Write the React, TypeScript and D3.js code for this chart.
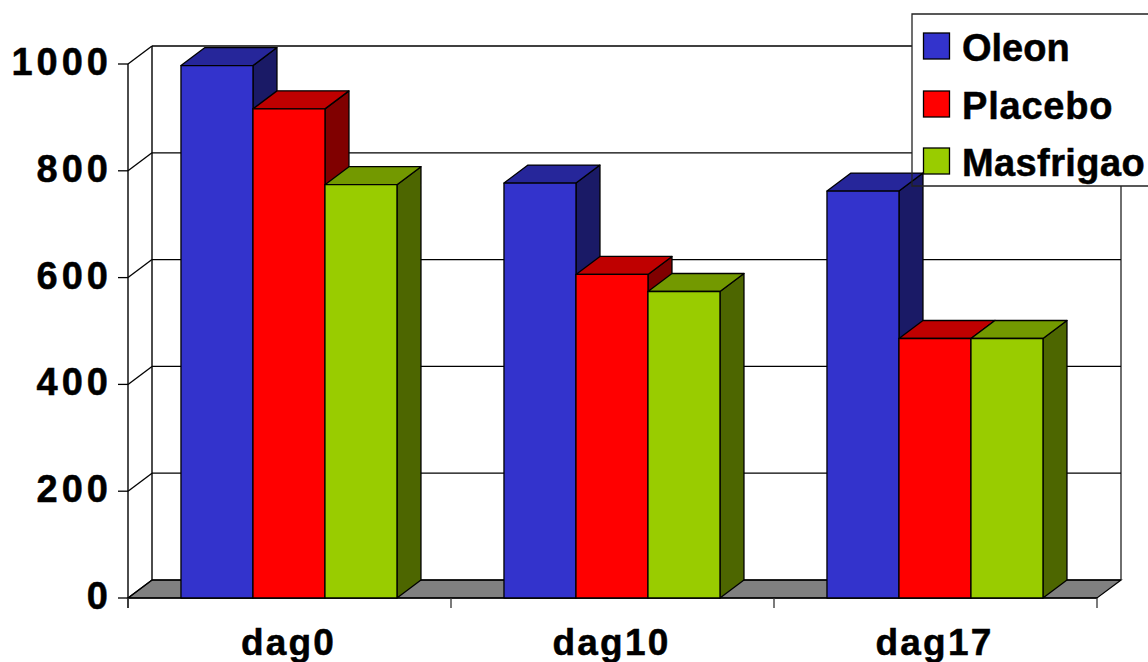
import React from "react";
import * as d3 from "d3";

// Chart values
const categories = ["dag0", "dag10", "dag17"];
const seriesNames = ["Oleon", "Placebo", "Masfrigao"];
const oleon = [997, 777, 762];
const placebo = [916, 606, 486];
const masfrigao = [774, 574, 486];
const yTicks = [0, 200, 400, 600, 800, 1000];
const seriesValues = [oleon, placebo, masfrigao];

// Face colours per series: front, top, side
const frontColors = ["#3333CC", "#FF0000", "#99CC00"];
const topColors = ["#26269A", "#BF0000", "#739900"];
const sideColors = ["#1A1A66", "#800000", "#4D6600"];

// Plot box and the oblique offset of the back wall
const left = 128;
const right = 1097;
const bottom = 598;
const top = 64;
const depthX = 24;
const depthY = -18;

const FONT = "'Liberation Sans', Arial, sans-serif";

const y = d3.scaleLinear().domain([0, 1000]).range([bottom, top]);
const xGroup = d3
  .scaleBand<string>()
  .domain(categories)
  .range([left, right])
  .paddingInner(0.328)
  .paddingOuter(0.164);
const xBar = d3.scaleBand<string>().domain(seriesNames).range([0, 216]);

const poly = (pts: [number, number][]) => d3.line()(pts) + "Z";

const legendX = 912;
const legendY = 14;
const legendBottom = 186;
const legendRows = [33, 91, 148];
const legendTracking = [0, 0.8, 0.4];

export default function App() {
  return (
    <svg
      width={1148}
      height={662}
      style={{ position: "absolute", left: 0, top: 0, background: "#fff" }}
      fontFamily={FONT}
      fontWeight="bold"
    >
      {/* floor */}
      <path
        d={poly([
          [left, bottom],
          [left + depthX, bottom + depthY],
          [right + depthX, bottom + depthY],
          [right, bottom],
        ])}
        fill="#808080"
        stroke="#000"
        strokeWidth={1.2}
      />
      {/* walls and gridlines */}
      <line x1={left + depthX} x2={left + depthX} y1={y(1000) + depthY} y2={bottom + depthY} stroke="#000" strokeWidth={1.4} />
      <line x1={right + depthX} x2={right + depthX} y1={y(1000) + depthY} y2={bottom + depthY} stroke="#333" strokeWidth={1.4} />
      <line x1={left} x2={left} y1={y(1000)} y2={bottom + 10} stroke="#000" strokeWidth={1.4} />
      {yTicks.map((t) => (
        <g key={t} stroke="#000" strokeWidth={1.3}>
          <line x1={left + depthX} x2={right + depthX} y1={y(t) + depthY} y2={y(t) + depthY} />
          <line x1={left} x2={left + depthX} y1={y(t)} y2={y(t) + depthY} />
          <line x1={left - 10} x2={left} y1={y(t)} y2={y(t)} />
        </g>
      ))}
      <line x1={left} x2={right} y1={bottom} y2={bottom} stroke="#000" strokeWidth={1.6} />
      {[0, 1, 2, 3].map((i) => {
        const px = left + i * xGroup.step();
        return <line key={i} x1={px} x2={px} y1={bottom} y2={bottom + 10} stroke="#333" strokeWidth={1.3} />;
      })}

      {/* legend panel sits behind the bars */}
      <rect x={legendX} y={legendY} width={1148 - legendX + 4} height={legendBottom - legendY} fill="#fff" />

      {/* bars */}
      {categories.map((c, ci) =>
        seriesNames.map((s, si) => {
          const x0 = xGroup(c)! + xBar(s)!;
          const x1 = x0 + xBar.bandwidth();
          const yt = y(seriesValues[si][ci]);
          return (
            <g key={c + s} stroke="#000" strokeWidth={1.3} strokeLinejoin="round">
              <path
                d={poly([
                  [x1, yt],
                  [x1 + depthX, yt + depthY],
                  [x1 + depthX, bottom + depthY],
                  [x1, bottom],
                ])}
                fill={sideColors[si]}
              />
              <path
                d={poly([
                  [x0, yt],
                  [x0 + depthX, yt + depthY],
                  [x1 + depthX, yt + depthY],
                  [x1, yt],
                ])}
                fill={topColors[si]}
              />
              <rect x={x0} y={yt} width={x1 - x0} height={bottom - yt} fill={frontColors[si]} />
            </g>
          );
        })
      )}

      {/* y axis labels */}
      {yTicks.map((t) => (
        <text
          key={t}
          x={112}
          y={y(t) + 11}
          textAnchor="end"
          fontSize={38}
          letterSpacing={4}
          fill="#000"
          stroke="#000"
          strokeWidth={0.5}
        >
          {t}
        </text>
      ))}

      {/* x axis labels */}
      {categories.map((c) => (
        <text
          key={c}
          x={xGroup(c)! + xGroup.bandwidth() / 2 - 1}
          y={654.5}
          textAnchor="middle"
          fontSize={37}
          letterSpacing={2.2}
          fill="#000"
          stroke="#000"
          strokeWidth={0.5}
        >
          {c}
        </text>
      ))}

      {/* legend */}
      <path
        d={`M1148,${legendY}H${legendX}V${legendBottom}H1148`}
        fill="none"
        stroke="#222"
        strokeWidth={1.3}
      />
      {seriesNames.map((s, i) => (
        <g key={s}>
          <rect x={923.5} y={legendRows[i]} width={26} height={26} fill={frontColors[i]} stroke="#000" strokeWidth={1.3} />
          <text
            x={962}
            y={legendRows[i] + 28}
            fontSize={38}
            letterSpacing={legendTracking[i]}
            fill="#000"
            stroke="#000"
            strokeWidth={0.5}
          >
            {s}
          </text>
        </g>
      ))}
    </svg>
  );
}
